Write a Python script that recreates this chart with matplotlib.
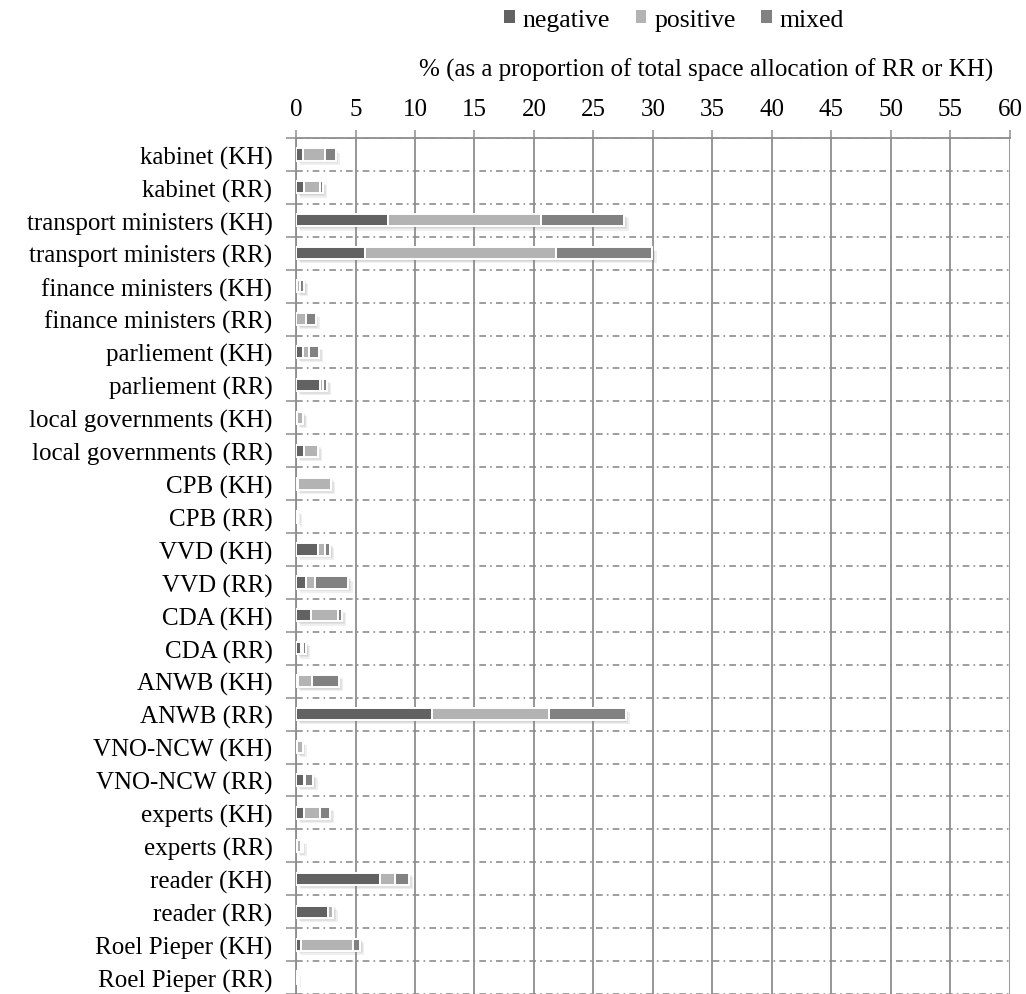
import numpy as np
import matplotlib.pyplot as plt
import matplotlib.patheffects as pe
from matplotlib.patches import Patch

plt.rcParams['font.family'] = ['Liberation Serif', 'DejaVu Serif']

LABELS = [
    'kabinet (KH)', 'kabinet (RR)',
    'transport ministers (KH)', 'transport ministers (RR)',
    'finance ministers (KH)', 'finance ministers (RR)',
    'parliement (KH)', 'parliement (RR)',
    'local governments (KH)', 'local governments (RR)',
    'CPB (KH)', 'CPB (RR)',
    'VVD (KH)', 'VVD (RR)',
    'CDA (KH)', 'CDA (RR)',
    'ANWB (KH)', 'ANWB (RR)',
    'VNO-NCW (KH)', 'VNO-NCW (RR)',
    'experts (KH)', 'experts (RR)',
    'reader (KH)', 'reader (RR)',
    'Roel Pieper (KH)', 'Roel Pieper (RR)',
]
negative = [0.6, 0.7, 7.7, 5.8, 0.05, 0.0, 0.63, 2.0, 0.05, 0.65,
            0.15, 0.0, 1.88, 0.8, 1.25, 0.45, 0.2, 11.4, 0.1, 0.68,
            0.68, 0.05, 7.1, 2.65, 0.45, 0.05]
positive = [1.8, 1.3, 12.9, 16.05, 0.3, 0.82, 0.5, 0.3, 0.5, 1.2,
            2.8, 0.15, 0.57, 0.8, 2.3, 0.1, 1.15, 9.9, 0.45, 0.05,
            1.3, 0.35, 1.2, 0.5, 4.3, 0.0]
mixed = [0.92, 0.25, 7.0, 8.1, 0.35, 0.82, 0.78, 0.3, 0.05, 0.0,
         0.0, 0.0, 0.43, 2.8, 0.3, 0.3, 2.25, 6.4, 0.0, 0.74,
         0.88, 0.15, 1.2, 0.0, 0.65, 0.0]
SERIES = [('negative', negative, '#626262'),
          ('positive', positive, '#b3b3b3'),
          ('mixed', mixed, '#818181')]
X_TICKS = list(range(0, 61, 5))

GRID = '#8e8e8e'

fig = plt.figure(figsize=(10.26, 9.95), dpi=100)
ax = fig.add_axes([0.2885, 0.0, 0.6959, 0.8603])

y = np.arange(len(LABELS))
left = np.zeros(len(LABELS))
# soft drop shadow, built from a few faint offset copies
shadow = [pe.SimplePatchShadow(offset=(d, -d), shadow_rgbFace='#808080', alpha=0.12)
          for d in (1, 2, 3)] + [pe.Normal()]
for name, vals, col in SERIES:
    vals = np.array(vals)
    bars = ax.barh(y, vals, left=left, height=0.37, color=col,
                   edgecolor='white', linewidth=1.4, zorder=3)
    for b in bars:
        b.set_path_effects(shadow)
    left = left + vals

ax.set_xlim(0, 60)
ax.set_ylim(len(LABELS) - 0.5, -0.5)
ax.set_xticks(X_TICKS)
ax.xaxis.tick_top()
ax.tick_params(axis='x', which='major', length=6, width=1.1, color=GRID,
               labelsize=18, pad=7)
ax.set_yticks(y)
ax.set_yticklabels(LABELS)
ax.set_yticks(np.arange(len(LABELS) + 1) - 0.5, minor=True)
ax.tick_params(axis='y', which='major', length=0, labelsize=18, pad=17)
ax.tick_params(axis='y', which='minor', length=7, width=1.1, color=GRID)

ax.grid(axis='x', which='major', color=GRID, linewidth=1.3, zorder=1)
ax.grid(axis='y', which='minor', color=GRID, linewidth=1.2,
        linestyle=(0, (4, 2.5, 1, 2.5)), zorder=1)
ax.set_axisbelow(True)

for s in ['right', 'bottom']:
    ax.spines[s].set_visible(False)
for s in ['top', 'left']:
    ax.spines[s].set_color(GRID)
    ax.spines[s].set_linewidth(1.3)

fig.text(0.688, 1 - 70 / 995, '% (as a proportion of total space allocation of RR or KH)',
         fontsize=18, ha='center', va='center')

handles = [Patch(facecolor=c) for _, _, c in SERIES]
fig.legend(handles=handles, labels=[s[0] for s in SERIES], loc='center',
           bbox_to_anchor=(0.657, 1 - 21 / 995), ncol=3, frameon=False, fontsize=18.5,
           handlelength=0.42, handleheight=0.42, handletextpad=0.3,
           columnspacing=1.0, borderaxespad=0)

fig.savefig('out.png', dpi=100)
